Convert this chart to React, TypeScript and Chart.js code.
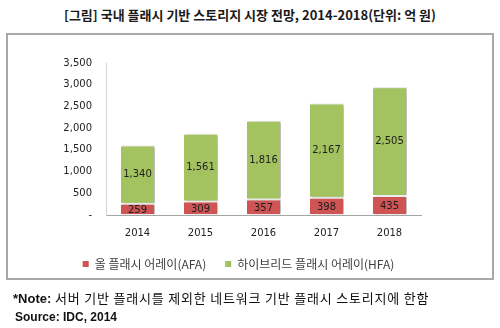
import React, { useEffect, useRef } from "react";
import { Chart, registerables } from "chart.js";

Chart.register(...registerables);

const categories = ["2014", "2015", "2016", "2017", "2018"];
const afaValues = [259, 309, 357, 398, 435];
const hfaValues = [1340, 1561, 1816, 2167, 2505];
const seriesNames = ["올 플래시 어레이(AFA)", "하이브리드 플래시 어레이(HFA)"];
const yMin = 0;
const yMax = 3500;
const yStep = 500;
const titleText = "[그림] 국내 플래시 기반 스토리지 시장 전망, 2014-2018(단위: 억 원)";
const noteLabel = "*Note:";
const noteText = " 서버 기반 플래시를 제외한 네트워크 기반 플래시 스토리지에 한함";
const sourceText = "Source: IDC, 2014";

const RED = "#cf5454";
const GREEN = "#a3c360";
const NUM_FONT = '"DejaVu Sans", "Noto Sans CJK KR", sans-serif';
const KR_FONT = '"Noto Sans CJK KR", "DejaVu Sans", sans-serif';

const fmt = (v: number) => v.toLocaleString("en-US");

const barShadow = {
  id: "barShadow",
  beforeDatasetDraw(chart: any) {
    const ctx = chart.ctx;
    ctx.save();
    ctx.shadowColor = "rgba(0,0,0,0.25)";
    ctx.shadowOffsetX = 2;
    ctx.shadowOffsetY = 0;
    ctx.shadowBlur = 2;
  },
  afterDatasetDraw(chart: any) {
    chart.ctx.restore();
  },
};

const segmentLabels = {
  id: "segmentLabels",
  afterDatasetsDraw(chart: any) {
    const ctx = chart.ctx;
    ctx.save();
    ctx.font = `10px ${NUM_FONT}`;
    ctx.textAlign = "center";
    ctx.textBaseline = "middle";
    chart.data.datasets.forEach((ds: any, di: number) => {
      const meta = chart.getDatasetMeta(di);
      meta.data.forEach((el: any, i: number) => {
        const v = ds.data[i];
        ctx.fillStyle = "#1e1e1e";
        ctx.fillText(fmt(v), el.x, (el.y + el.base) / 2 + (di === 0 ? 1 : 0));
      });
    });
    ctx.restore();
  },
};

export default function App() {
  const ref = useRef<HTMLCanvasElement | null>(null);

  useEffect(() => {
    if (!ref.current) return;
    const chart = new Chart(ref.current, {
      type: "bar",
      data: {
        labels: categories,
        datasets: [
          {
            label: seriesNames[0],
            data: afaValues,
            backgroundColor: RED,
            borderColor: "#ffffff",
            borderWidth: 1,
            borderSkipped: false,
            barPercentage: 0.556,
            categoryPercentage: 1,
          },
          {
            label: seriesNames[1],
            data: hfaValues,
            backgroundColor: GREEN,
            borderColor: "#ffffff",
            borderWidth: 1,
            borderSkipped: false,
            barPercentage: 0.556,
            categoryPercentage: 1,
          },
        ],
      },
      options: {
        responsive: false,
        animation: false,
        devicePixelRatio: 1,
        layout: { padding: { left: 56, right: 79, top: 63, bottom: 48 } },
        plugins: {
          tooltip: { enabled: false },
          legend: {
            position: "bottom",
            labels: {
              boxWidth: 6,
              boxHeight: 6,
              padding: 19,
              color: "#404040",
              font: { family: KR_FONT, size: 12 },
              generateLabels: (c: any) =>
                Chart.defaults.plugins.legend.labels
                  .generateLabels(c)
                  .map((l: any) => ({ ...l, lineWidth: 0, strokeStyle: l.fillStyle })),
            },
          },
        },
        scales: {
          x: {
            stacked: true,
            grid: { display: false, drawTicks: false },
            border: { display: true, color: "#a6a6a6", width: 1 },
            ticks: { color: "#222", font: { family: NUM_FONT, size: 10 }, padding: 12 },
            afterFit: (s: any) => {
              s.height = 24;
            },
          },
          y: {
            stacked: true,
            min: yMin,
            max: yMax,
            grid: { display: false, drawTicks: false },
            border: { display: true, color: "#d4d4d4", width: 1 },
            ticks: {
              stepSize: yStep,
              padding: 14,
              color: "#222",
              font: { family: NUM_FONT, size: 10 },
              callback: (v: any) => (Number(v) === 0 ? "-" : fmt(Number(v))),
            },
            afterFit: (s: any) => {
              s.width = 50;
            },
          },
        },
      },
      plugins: [barShadow, segmentLabels],
    });
    return () => chart.destroy();
  }, []);

  return (
    <div style={{ position: "fixed", left: 0, top: 0, width: 500, height: 328, background: "#fff", overflow: "hidden" }}>
      <div
        style={{
          position: "absolute",
          left: 0,
          top: 5,
          width: 500,
          textAlign: "center",
          font: `bold 13px ${KR_FONT}`,
          color: "#1a1a1a",
          lineHeight: "20px",
          whiteSpace: "nowrap",
        }}
      >
        {titleText}
      </div>
      <div
        style={{
          position: "absolute",
          left: 6,
          top: 33,
          width: 488,
          height: 247,
          boxSizing: "border-box",
          border: "2px solid #a8a8a8",
        }}
      />
      <canvas ref={ref} width={500} height={328} style={{ position: "absolute", left: 0, top: 0, width: 500, height: 328 }} />
      <div
        style={{
          position: "absolute",
          left: 13,
          top: 288,
          font: `13px ${KR_FONT}`,
          color: "#111",
          lineHeight: "20px",
          whiteSpace: "nowrap",
        }}
      >
        <span style={{ fontWeight: "bold", fontFamily: '"Liberation Sans", Arial, sans-serif' }}>{noteLabel}</span>
        <span style={{ letterSpacing: "0.8px" }}>{noteText}</span>
      </div>
      <div
        style={{
          position: "absolute",
          left: 15,
          top: 308,
          font: `bold 12px "Liberation Sans", Arial, sans-serif`,
          color: "#111",
          lineHeight: "18px",
          whiteSpace: "nowrap",
        }}
      >
        {sourceText}
      </div>
    </div>
  );
}
